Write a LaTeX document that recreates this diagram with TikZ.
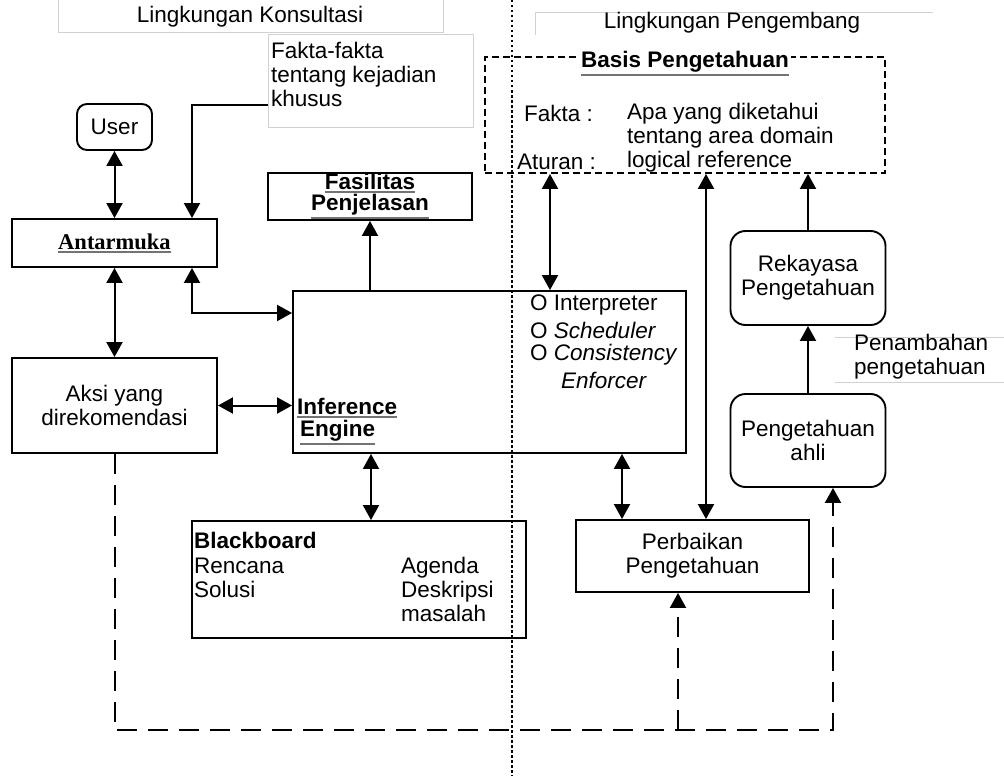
\documentclass[tikz,border=0pt]{standalone}
\usepackage{fontspec}
\setmainfont{Liberation Sans}
\newfontfamily\serifbf{Liberation Serif}
\usetikzlibrary{arrows.meta}
\newcommand\bsz{\fontsize{22.5}{24}\selectfont}
\newcommand\thul[1]{\leavevmode\vtop{\hbox{#1}\kern1.2pt{\color{black!55}\hrule height 2.6pt}}}
\tikzset{
 box/.style={draw, line width=1.9pt, inner sep=0pt, align=center},
 rbox/.style={box, rounded corners=15pt},
 txt/.style={inner sep=0pt, align=left},
 conn/.style={line width=2pt},
 tip/.tip={Triangle[length=15pt,width=16pt]},
 arr/.style={conn, -tip},
 dbl/.style={conn, tip-tip},
 fb/.style={conn, dash pattern=on 20pt off 11pt},
 lab/.style={draw=black!18, line width=1pt},
 every node/.style={font=\bsz},
}
\begin{document}
\begin{tikzpicture}[x=1pt,y=-1pt]
\useasboundingbox (0,0) rectangle (1004,776);
% environment labels
\draw[lab] (58,0) -- (58,33) -- (443,33) -- (443,0);
\node[txt] (lk) at (250,17) {Lingkungan Konsultasi};
\draw[lab] (535,35) -- (535,13) -- (933,13);
\node[txt] (lp) at (732,23) {Lingkungan Pengembang};
\draw[lab] (835,337) -- (1004,337);
\draw[lab] (835,382) -- (1004,382);
\node[txt, anchor=west] (pen) at (854,357) {Penambahan\\pengetahuan};
% dotted divider
\draw[line width=2pt, dash pattern=on 2.5pt off 2.5pt] (512,0) -- (512,776);
% fakta label
\node[lab, inner sep=0pt, minimum width=205pt, minimum height=92pt] (fakta) at (370.5,81) {};
\node[txt, anchor=west] (faktatxt) at (271,74) {Fakta-fakta\\tentang kejadian\\khusus};
% boxes
\node[box, rounded corners=10pt, minimum width=75pt, minimum height=46pt] (user) at (114.5,127) {User};
\node[box, minimum width=205pt, minimum height=48pt] (antar) at (114.5,243) {};
\node[txt] (antartxt) at (114.5,243.5) {\thul{\serifbf\bfseries Antarmuka}};
\node[box, minimum width=205pt, minimum height=95pt] (aksi) at (114.5,405.5) {Aksi yang\\direkomendasi};
\node[box, minimum width=204pt, minimum height=47pt] (fas) at (370,196.5) {};
\node[txt] (fas1) at (370,183) {\thul{\bfseries Fasilitas}};
\node[txt] (fas2) at (370,207) {\thul{\bfseries Penjelasan}};
\node[box, minimum width=393pt, minimum height=162pt] (inf) at (489.5,372) {};
\node[box, minimum width=334pt, minimum height=117pt] (bb) at (359,579.5) {};
\node[box, minimum width=233pt, minimum height=72pt] (perb) at (692.5,556) {Perbaikan\\Pengetahuan};
\node[box, dash pattern=on 7pt off 4pt, minimum width=400pt, minimum height=116pt] (basis) at (685,115) {};
\node[rbox, minimum width=155pt, minimum height=94pt] (rek) at (808,278) {Rekayasa\\Pengetahuan};
\node[rbox, minimum width=155pt, minimum height=93pt] (ahli) at (808,440.5) {Pengetahuan\\ahli};
% basis texts
\node[txt, fill=white, inner xsep=2pt] (btitle) at (685,64) {\thul{\bfseries Basis Pengetahuan}};
\node[txt, anchor=west] (bf) at (524,113) {Fakta :};
\node[txt, anchor=west] (bfa) at (627,125.5) {Apa yang diketahui\\tentang area domain};
\node[txt, anchor=west] (ba) at (517,162) {Aturan :};
\node[txt, anchor=west] (baa) at (627,162) {logical reference};
% inference texts
\node[txt, anchor=west] (i1) at (530,305) {O Interpreter};
\node[txt, anchor=west] (i2) at (530,330) {O \textit{Scheduler}};
\node[txt, anchor=west] (i3) at (530,355) {O \textit{Consistency}};
\node[txt] (i4) at (604,380) {\textit{Enforcer}};
\node[txt, anchor=west] (ie1) at (297,408) {\thul{\bfseries Inference}};
\node[txt, anchor=west] (ie2) at (300,433) {\thul{\bfseries Engine}};
% blackboard texts
\node[txt, anchor=west] (b1t) at (194,540) {\bfseries Blackboard};
\node[txt, anchor=west] (b2t) at (194,577.5) {Rencana\\Solusi};
\node[txt, anchor=west] (b3t) at (401,589.5) {Agenda\\Deskripsi\\masalah};
% connectors
\coordinate (fk) at (268,105);
\draw[arr] (fk) -| ([xshift=77.5pt]antar.north);
\draw[dbl] (user.south) -- (antar.north);
\draw[dbl] (antar.south) -- (aksi.north);
\coordinate (a2) at ([xshift=77.5pt]antar.south);
\coordinate (iw) at ([yshift=59pt]inf.west);
\draw[dbl] (a2) |- (iw);
\draw[dbl] (aksi.east) -- (aksi.east -| inf.west);
\draw[arr] (inf.north -| fas.south) -- (fas.south);
\coordinate (k1) at ([xshift=-135pt]basis.south);
\draw[dbl] (k1) -- (k1 |- inf.north);
\coordinate (k2) at ([xshift=21pt]basis.south);
\draw[dbl] (k2) -- (k2 |- perb.north);
\draw[arr] (rek.north) -- (rek.north |- basis.south);
\draw[arr] (ahli.north) -- (rek.south);
\coordinate (p1) at ([xshift=-70.5pt]perb.north);
\draw[dbl] (p1 |- inf.south) -- (p1);
\coordinate (q1) at ([xshift=12pt]bb.north);
\draw[dbl] (q1 |- inf.south) -- (q1);
% feedback dashed
\coordinate (fbl) at (114.5,730);
\coordinate (fbr) at (833,730);
\coordinate (fbm) at (678,730);
\draw[fb, -tip] (aksi.south) -- (fbl) -- (fbr) -- (fbr |- ahli.south);
\draw[fb, -tip] (fbm) -- (fbm |- perb.south);
\end{tikzpicture}
\end{document}
